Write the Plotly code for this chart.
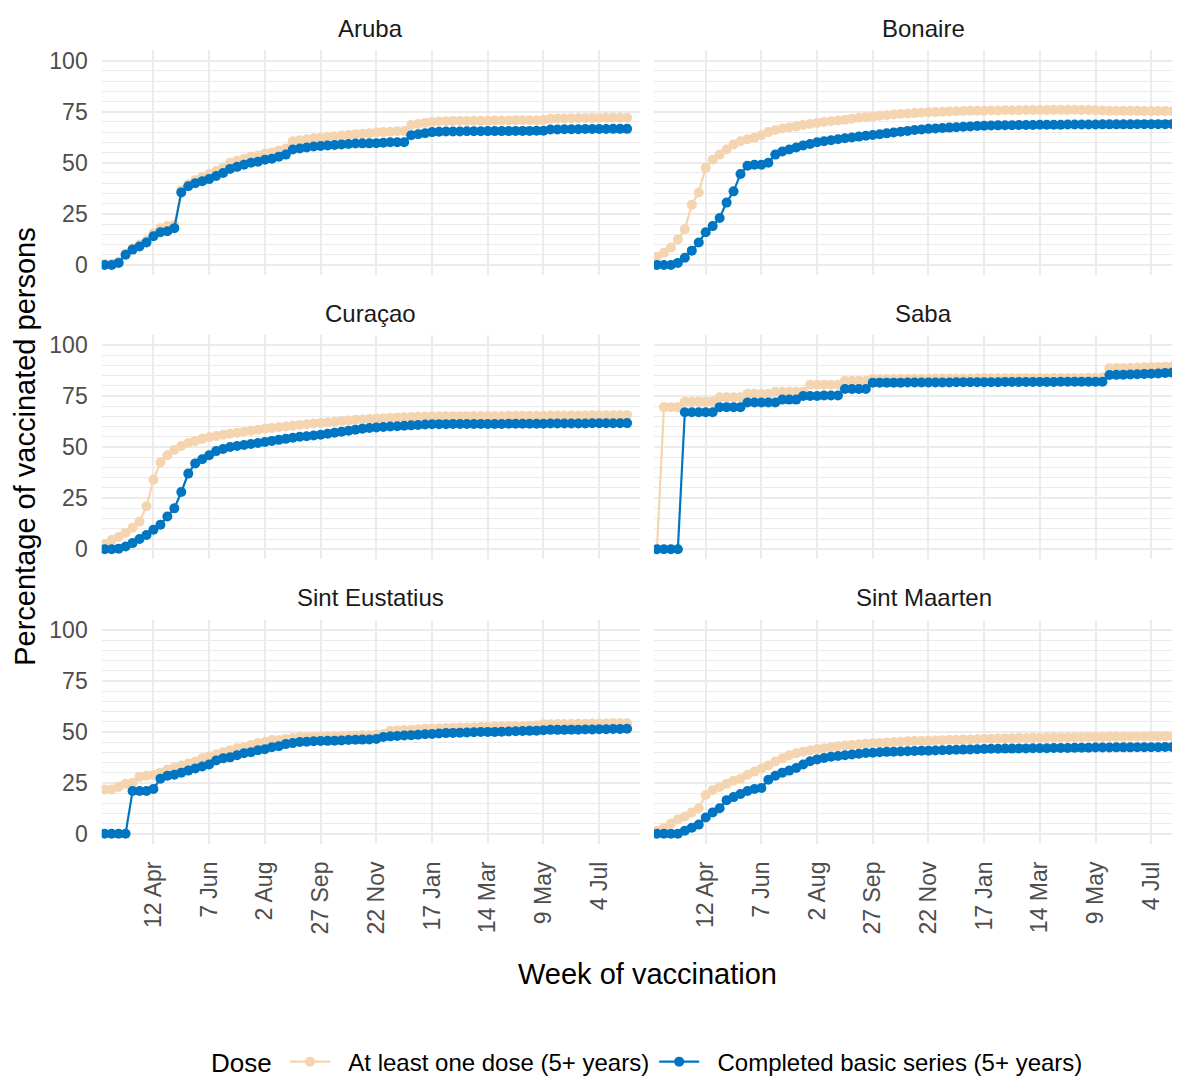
import pandas as pd
import plotly.graph_objects as go

# ---------------- data ----------------
weeks = pd.date_range("2021-02-22", periods=76, freq="7D")

regions = ["Aruba", "Bonaire", "Curaçao", "Saba", "Sint Eustatius", "Sint Maarten"]
series_names = ["At least one dose (5+ years)", "Completed basic series (5+ years)"]
legend_title = "Dose"

tick_dates = ["2021-04-12", "2021-06-07", "2021-08-02", "2021-09-27", "2021-11-22",
              "2022-01-17", "2022-03-14", "2022-05-09", "2022-07-04"]
tick_labels = ["12 Apr", "7 Jun", "2 Aug", "27 Sep", "22 Nov", "17 Jan", "14 Mar", "9 May", "4 Jul"]
y_ticks = [0, 25, 50, 75, 100]

aruba_one = [0.5, 0.5, 1.5, 5.5, 8, 10, 12, 15.5, 18, 19, 19.5,
             36.5, 39.5, 41.5, 43, 44.5, 46, 47.5, 50, 51, 52,
             53, 53.5, 54.5, 55, 56, 57, 60.5, 61, 61.5, 62,
             62.3, 62.6, 63, 63.3, 63.6, 63.9, 64.2, 64.5, 64.8, 65,
             65.2, 65.4, 65.5, 68.5, 69, 69.5, 70, 70.2, 70.3, 70.4,
             70.5, 70.5, 70.6, 70.6, 70.6, 70.7, 70.7, 70.7, 70.8, 70.8,
             70.8, 70.8, 70.9, 71.6, 71.7, 71.7, 71.8, 71.8, 71.9, 71.9,
             71.9, 72, 72, 72, 72]
aruba_full = [0, 0, 1, 5, 7.5, 9, 11, 14, 16, 16.5, 18,
              35.5, 38.5, 40, 41, 42, 43.5, 45, 47, 48, 49,
              50, 50.5, 51.5, 52, 53, 54, 56.5, 57, 57.5, 58,
              58.2, 58.5, 58.7, 59, 59.2, 59.4, 59.5, 59.5, 59.6, 59.8,
              60, 60, 60, 63.5, 64, 64.5, 65, 65.2, 65.3, 65.3,
              65.3, 65.4, 65.4, 65.4, 65.5, 65.5, 65.5, 65.5, 65.6, 65.6,
              65.6, 65.7, 65.7, 66.3, 66.3, 66.4, 66.4, 66.4, 66.5, 66.5,
              66.5, 66.5, 66.6, 66.6, 66.6]

bonaire_one = [4, 6, 8.5, 12.5, 17.5, 29.5, 35.5, 47.5, 51.5, 54, 56.5,
               59, 60.5, 61.5, 62.3, 63.5, 65, 66, 66.8, 67.3, 67.8,
               68.5, 69, 69.5, 70, 70.3, 70.7, 71, 71.5, 72, 72.3,
               72.6, 73, 73.3, 73.6, 73.9, 74.1, 74.3, 74.5, 74.7, 74.8,
               75, 75.1, 75.2, 75.3, 75.4, 75.5, 75.5, 75.6, 75.6, 75.7,
               75.7, 75.7, 75.8, 75.8, 75.8, 75.8, 75.9, 75.9, 75.9, 75.9,
               75.8, 75.8, 75.7, 75.6, 75.5, 75.5, 75.4, 75.4, 75.4, 75.3,
               75.3, 75.3, 75.3, 75.2, 75.2]
bonaire_full = [0, 0, 0, 1, 3.5, 7, 11, 16, 19, 23, 30.5,
                36, 44.5, 48.5, 49, 49, 50, 54, 55.5, 56.5, 57.5,
                58.5, 59.2, 60, 60.5, 61, 61.5, 62, 62.4, 62.8, 63.2,
                63.6, 64, 64.4, 64.8, 65.2, 65.6, 66, 66.3, 66.6, 66.8,
                67, 67.2, 67.4, 67.6, 67.8, 68, 68.1, 68.2, 68.3, 68.4,
                68.4, 68.5, 68.5, 68.5, 68.6, 68.6, 68.6, 68.6, 68.7, 68.7,
                68.7, 68.7, 68.7, 68.8, 68.8, 68.8, 68.8, 68.8, 68.9, 68.9,
                68.9, 68.9, 68.9, 69, 69]

curacao_one = [2.5, 4.5, 6, 8, 10.5, 13.5, 21, 34, 42.5, 46, 48.5,
               50.5, 52, 53, 54, 54.8, 55.4, 56, 56.5, 57, 57.5,
               58, 58.5, 59, 59.3, 59.7, 60, 60.4, 60.8, 61.2, 61.5,
               61.8, 62.1, 62.4, 62.7, 63, 63.3, 63.5, 63.7, 63.9, 64.1,
               64.3, 64.5, 64.6, 64.7, 64.8, 64.9, 65, 65, 65.1, 65.1,
               65.1, 65.1, 65.2, 65.2, 65.2, 65.2, 65.2, 65.3, 65.3, 65.3,
               65.3, 65.3, 65.3, 65.4, 65.4, 65.4, 65.4, 65.4, 65.5, 65.5,
               65.5, 65.5, 65.5, 65.5, 65.6]
curacao_full = [0, 0, 0.3, 1.3, 3, 5, 7, 9.5, 12, 16, 20,
                28, 37, 42, 44, 46, 48, 49, 50, 50.5, 51,
                51.5, 52, 52.5, 53, 53.5, 54, 54.5, 55, 55.3, 55.6,
                56, 56.5, 57, 57.5, 58, 58.5, 59, 59.3, 59.6, 59.8,
                60, 60.2, 60.4, 60.6, 60.8, 61, 61.1, 61.2, 61.2, 61.3,
                61.3, 61.3, 61.3, 61.3, 61.3, 61.3, 61.3, 61.4, 61.4, 61.4,
                61.4, 61.4, 61.4, 61.5, 61.5, 61.5, 61.5, 61.5, 61.5, 61.6,
                61.6, 61.6, 61.6, 61.6, 61.7]

saba_one = [0, 69.5, 69.5, 69.5, 72.2, 72.2, 72.2, 72.2, 72.2, 74.3, 74.3,
            74.3, 74.3, 76, 76, 76, 76, 77, 77, 77, 77,
            77, 80.5, 80.5, 80.5, 80.5, 80.5, 82.4, 82.4, 82.4, 82.4,
            83.3, 83.3, 83.3, 83.3, 83.4, 83.4, 83.4, 83.4, 83.4, 83.5,
            83.5, 83.5, 83.5, 83.5, 83.5, 83.6, 83.6, 83.6, 83.6, 83.6,
            83.6, 83.7, 83.7, 83.7, 83.7, 83.7, 83.8, 83.8, 83.8, 83.8,
            83.8, 83.9, 83.9, 84, 88.5, 88.6, 88.7, 88.8, 88.9, 89,
            89.1, 89.2, 89.3, 89.4, 89.5]
saba_full = [0, 0, 0, 0, 67, 67, 67, 67, 67, 69.5, 69.5,
             69.5, 69.5, 71.8, 71.8, 71.8, 71.8, 71.8, 73.2, 73.2, 73.2,
             75, 75, 75, 75.2, 75.2, 75.2, 78.4, 78.4, 78.4, 78.4,
             81.5, 81.5, 81.5, 81.5, 81.5, 81.6, 81.6, 81.6, 81.6, 81.6,
             81.6, 81.6, 81.7, 81.7, 81.7, 81.7, 81.7, 81.7, 81.7, 81.8,
             81.8, 81.8, 81.8, 81.8, 81.8, 81.8, 81.8, 81.9, 81.9, 81.9,
             81.9, 81.9, 81.9, 81.9, 85.2, 85.3, 85.4, 85.5, 85.6, 85.7,
             85.8, 86, 86.2, 86.4, 86.5]

eustatius_one = [21.7, 21.7, 23, 24.5, 25, 28, 28.5, 29, 30, 31.5, 32.5,
                 33.5, 34.5, 35.5, 37, 38, 39, 40, 41, 42, 42.5,
                 43.5, 44.5, 45, 46, 46, 46.5, 47, 47.5, 47.5, 47.6,
                 47.7, 47.8, 47.9, 48, 48.1, 48.2, 48.3, 48.4, 48.6, 49,
                 50.5, 50.7, 50.9, 51.1, 51.3, 51.5, 51.7, 51.8, 51.9, 52,
                 52.1, 52.2, 52.3, 52.4, 52.5, 52.6, 52.6, 52.7, 52.8, 52.9,
                 53, 53.1, 53.8, 53.8, 53.9, 53.9, 54, 54, 54, 54.1,
                 54.1, 54.1, 54.2, 54.2, 54.2]
eustatius_full = [0, 0, 0, 0, 21, 21, 21, 22, 27, 28.5, 29,
                  30, 31, 32, 33, 34, 36, 37, 37.5, 38.5, 39.5,
                  40, 41, 41.5, 42.5, 43, 44, 44.5, 45, 45.2, 45.4,
                  45.5, 45.6, 45.7, 45.8, 46, 46.1, 46.2, 46.3, 46.5, 47.5,
                  47.8, 48, 48.2, 48.4, 48.6, 48.8, 49, 49.2, 49.4, 49.5,
                  49.6, 49.7, 49.8, 49.9, 50, 50, 50.1, 50.2, 50.3, 50.4,
                  50.5, 50.6, 50.8, 51, 51, 51, 51.1, 51.1, 51.2, 51.2,
                  51.3, 51.3, 51.4, 51.4, 51.5]

maarten_one = [1.5, 3, 5, 7, 8.5, 10.5, 12.5, 19, 21.5, 23, 24.5,
               26, 27, 29, 30.5, 32, 33.5, 35.5, 37, 38.5, 39.5,
               40.3, 41, 41.5, 42, 42.5, 43, 43.3, 43.6, 43.9, 44.2,
               44.4, 44.6, 44.8, 45, 45.2, 45.4, 45.5, 45.6, 45.7, 45.8,
               45.9, 46, 46.1, 46.2, 46.3, 46.4, 46.5, 46.6, 46.7, 46.8,
               46.9, 47, 47, 47.1, 47.1, 47.2, 47.2, 47.3, 47.3, 47.4,
               47.4, 47.5, 47.5, 47.5, 47.6, 47.6, 47.6, 47.7, 47.7, 47.7,
               47.8, 47.8, 47.8, 47.9, 48]
maarten_full = [0, 0, 0, 0, 1.5, 3, 4.5, 8, 10.5, 12.5, 16.5,
                18, 19.5, 21, 22, 22.5, 26.5, 28.5, 30, 31, 32.3,
                34, 35.6, 36.5, 37.2, 37.8, 38.2, 38.5, 38.9, 39.3, 39.6,
                39.8, 40, 40.2, 40.3, 40.4, 40.5, 40.6, 40.7, 40.8, 40.9,
                41, 41.1, 41.2, 41.3, 41.4, 41.5, 41.6, 41.7, 41.7, 41.8,
                41.8, 41.9, 41.9, 42, 42, 42, 42.1, 42.1, 42.1, 42.2,
                42.2, 42.2, 42.3, 42.3, 42.3, 42.4, 42.4, 42.4, 42.5, 42.5,
                42.5, 42.5, 42.6, 42.6, 42.6]

one_dose = [aruba_one, bonaire_one, curacao_one, saba_one, eustatius_one, maarten_one]
full_dose = [aruba_full, bonaire_full, curacao_full, saba_full, eustatius_full, maarten_full]

# ---------------- styling / layout ----------------
W, H = 1180, 1077
C_ONE = "#F5D4B0"
C_FULL = "#0075C2"
GRID = "#EBEBEB"
FONT = "Liberation Sans, Arial, sans-serif"
GAP = "\u00a0\u00a0"  # visual gap between legend key and label

# figure-pixel geometry (page body adds an 8px offset on screen)
col_px = [(93.7, 632.0), (646.0, 1180.0)]
row_px = [(42.5, 267.9), (327.5, 553.0), (613.5, 838.3)]
strip_y = [21, 306, 591]
strip_x = [362.9, 915.5]
x_ranges = [["2021-02-19", "2022-08-14"], ["2021-02-19", "2022-08-10"]]

fig = go.Figure()
layout = {}
annotations = []

for i, region in enumerate(regions):
    r, c = divmod(i, 2)
    n = i + 1
    xa = "x" if n == 1 else f"x{n}"
    ya = "y" if n == 1 else f"y{n}"
    xkey = "xaxis" if n == 1 else f"xaxis{n}"
    ykey = "yaxis" if n == 1 else f"yaxis{n}"

    fig.add_trace(go.Scatter(
        x=weeks, y=one_dose[i], mode="lines+markers", name=GAP + series_names[0],
        legendgroup="one", showlegend=(i == 0),
        line=dict(color=C_ONE, width=2.2), marker=dict(color=C_ONE, size=10),
        xaxis=xa, yaxis=ya, cliponaxis=True))
    fig.add_trace(go.Scatter(
        x=weeks, y=full_dose[i], mode="lines+markers", name=GAP + series_names[1],
        legendgroup="full", showlegend=(i == 0),
        line=dict(color=C_FULL, width=2.2), marker=dict(color=C_FULL, size=10),
        xaxis=xa, yaxis=ya, cliponaxis=True))

    x0, x1 = col_px[c]
    y0, y1 = row_px[r]
    layout[xkey] = dict(
        domain=[x0 / W, x1 / W], anchor=ya, type="date", range=x_ranges[c],
        tickvals=tick_dates, ticktext=tick_labels, tickangle=-90,
        showticklabels=(r == 2), ticks="", ticklabelstandoff=12,
        tickfont=dict(size=23, color="#4D4D4D", family=FONT),
        showgrid=True, gridcolor=GRID, gridwidth=2, zeroline=False,
        showline=False, automargin=False, fixedrange=True)
    layout[ykey] = dict(
        domain=[1 - y1 / H, 1 - y0 / H], anchor=xa, range=[-5, 105],
        tickvals=y_ticks, showticklabels=(c == 0), ticks="", ticklabelstandoff=13,
        tickfont=dict(size=23, color="#4D4D4D", family=FONT),
        showgrid=True, gridcolor=GRID, gridwidth=2, zeroline=False,
        minor=dict(dtick=5, tick0=0, showgrid=True, gridcolor=GRID, gridwidth=1),
        showline=False, automargin=False, fixedrange=True)

    annotations.append(dict(
        text=region, x=strip_x[c] / W, y=1 - strip_y[r] / H, xref="paper", yref="paper",
        xanchor="center", yanchor="middle", showarrow=False,
        font=dict(size=24, color="#1A1A1A", family=FONT)))

annotations.append(dict(
    text="Week of vaccination", x=639 / W, y=1 - 969 / H, xref="paper", yref="paper",
    xanchor="center", yanchor="middle", showarrow=False,
    font=dict(size=29, color="black", family=FONT)))
annotations.append(dict(
    text="Percentage of vaccinated persons", x=17 / W, y=1 - 440 / H,
    xref="paper", yref="paper", xanchor="center", yanchor="middle",
    textangle=-90, showarrow=False,
    font=dict(size=29, color="black", family=FONT)))
# legend title placed beside the horizontal legend
annotations.append(dict(
    text=legend_title, x=233.5 / W, y=1 - 1058 / H, xref="paper", yref="paper",
    xanchor="center", yanchor="middle", showarrow=False,
    font=dict(size=26, color="black", family=FONT)))

fig.update_layout(
    width=W, height=H,
    margin=dict(l=0, r=0, t=0, b=0),
    paper_bgcolor="white", plot_bgcolor="white",
    font=dict(family=FONT),
    annotations=annotations,
    showlegend=True,
    legend=dict(
        orientation="h", x=678.5 / W, y=1 - 1057 / H, xanchor="center", yanchor="middle",
        font=dict(size=24, color="black", family=FONT),
        itemwidth=40, bgcolor="rgba(0,0,0,0)", tracegroupgap=0),
    **layout)

fig.write_html("out.html")
